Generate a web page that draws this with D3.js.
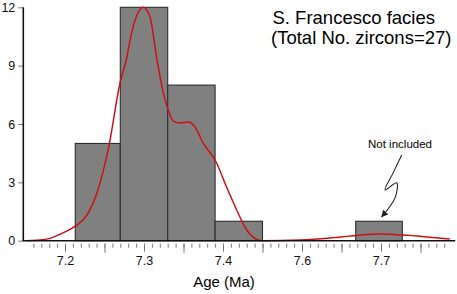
<!DOCTYPE html>
<html>
<head>
<meta charset="utf-8">
<script src="https://cdn.jsdelivr.net/npm/d3@7"></script>
<style>
  body { margin: 0; background: #fff; }
  text { font-family: "Liberation Sans", Arial, Helvetica, sans-serif; }
</style>
</head>
<body>
<div id="chart"></div>
<script>
// histogram bins (age in Ma) and zircon counts
const binLo  = [7.213, 7.27, 7.33, 7.39, 7.568];
const binHi  = [7.27, 7.33, 7.39, 7.45, 7.627];
const counts = [5, 12, 8, 1, 1];

// density curve (age, scaled value)
const kdeAge = [7.152, 7.168, 7.181, 7.2, 7.213, 7.2275, 7.240, 7.2485, 7.2548, 7.2696, 7.2781,
  7.2823, 7.2911, 7.2991, 7.3076, 7.3161, 7.3244, 7.3308, 7.3371, 7.3456, 7.3561, 7.3646,
  7.3751, 7.39, 7.4047, 7.4173, 7.4301, 7.4427, 7.4506, 7.4975, 7.5354, 7.5692, 7.5987,
  7.6278, 7.662, 7.687];
const kdeVal = [0.0, 0.03, 0.12, 0.45, 0.75, 1.3, 2.4, 3.6, 4.7, 8.1, 9.4,
  10.3, 11.6, 12.0, 11.5, 9.4, 7.6, 6.7, 6.15, 6.05, 6.1, 5.85,
  5.0, 4.15, 2.75, 1.58, 0.55, 0.07, 0.0, 0.04, 0.14, 0.27, 0.34,
  0.29, 0.18, 0.09];

// axis ticks (labels copied as printed on the figure)
const xTickValues = [7.2, 7.3, 7.4, 7.5, 7.6];
const xTickLabels = ["7.2", "7.3", "7.4", "7.6", "7.7"];
const yTickValues = [0, 3, 6, 9, 12];

// the "not included" arrow, in data units
const arrowAge = [7.6262, 7.6155, 7.6051, 7.6199, 7.6177, 7.6009];
const arrowVal = [4.41, 3.5, 2.61, 2.97, 2.2, 1.23];

const width = 457;
const height = 294;

const svg = d3.select("#chart")
  .append("svg")
    .attr("width", width)
    .attr("height", height);

const x = d3.scaleLinear().domain([7.2, 7.6]).range([65, 381]);
const y = d3.scaleLinear().domain([0, 12]).range([240.7, 7.3]);

// bars
svg.append("g")
  .selectAll("rect")
  .data(counts)
  .join("rect")
    .attr("x", (d, i) => x(binLo[i]))
    .attr("width", (d, i) => x(binHi[i]) - x(binLo[i]))
    .attr("y", d => y(d))
    .attr("height", d => y(0) - y(d))
    .attr("fill", "#808080")
    .attr("stroke", "#2e2e2e")
    .attr("stroke-width", 1.1);

// density curve
const kde = kdeAge.map((a, i) => [a, kdeVal[i]]);
svg.append("path")
  .datum(kde)
  .attr("fill", "none")
  .attr("stroke", "#cc1016")
  .attr("stroke-width", 1.5)
  .attr("d", d3.line()
    .x(d => x(d[0]))
    .y(d => y(d[1]))
    .curve(d3.curveMonotoneX));

// x axis: minor ticks, then medium, then labelled ones
const minorTicks = d3.range(716, 769).map(d => d / 100);
const midTicks = d3.range(725, 769, 10).map(d => d / 100);

const xAxisG = svg.append("g").attr("transform", `translate(0,${y(0) + 3})`);
xAxisG.append("g")
  .call(d3.axisBottom(x).tickValues(minorTicks).tickSize(4).tickFormat(""));
xAxisG.append("g")
  .call(d3.axisBottom(x).tickValues(midTicks).tickSize(9).tickFormat(""));
xAxisG.append("g")
  .call(d3.axisBottom(x).tickValues(xTickValues).tickSize(8)
    .tickFormat((d, i) => xTickLabels[i]));
xAxisG.selectAll(".domain").remove();
xAxisG.selectAll(".tick line").attr("stroke", "#777").attr("stroke-width", 1);
xAxisG.selectAll(".tick text")
  .attr("fill", "#111")
  .attr("dy", "0.72em")
  .attr("y", 12)
  .style("font-size", "12.5px")
  .style("font-family", "'Liberation Sans', Arial, sans-serif");

svg.append("line")
  .attr("x1", x(7.146)).attr("x2", x(7.694))
  .attr("y1", y(0)).attr("y2", y(0))
  .attr("stroke", "#111").attr("stroke-width", 1.6);

// y axis
const yAxisG = svg.append("g").attr("transform", "translate(23.3,0)");
yAxisG.call(d3.axisLeft(y).tickValues(yTickValues).tickSize(5).tickPadding(3));
yAxisG.select(".domain").remove();
yAxisG.selectAll(".tick line").attr("stroke", "#777");
yAxisG.selectAll(".tick text")
  .attr("fill", "#111")
  .style("font-size", "12.5px")
  .style("font-family", "'Liberation Sans', Arial, sans-serif");

svg.append("line")
  .attr("x1", 23.3).attr("x2", 23.3)
  .attr("y1", y(12)).attr("y2", y(0))
  .attr("stroke", "#111").attr("stroke-width", 1.6);

// axis title
svg.append("text")
  .attr("x", 224)
  .attr("y", 287)
  .attr("text-anchor", "middle")
  .style("font-size", "15px")
  .text("Age (Ma)");

// titles
svg.append("text")
  .attr("x", 272.5)
  .attr("y", 24)
  .style("font-size", "18.5px")
  .text("S. Francesco facies");

svg.append("text")
  .attr("x", 271)
  .attr("y", 43.5)
  .style("font-size", "18.5px")
  .text("(Total No. zircons=27)");

// annotation
svg.append("text")
  .attr("x", 400)
  .attr("y", 148)
  .attr("text-anchor", "middle")
  .style("font-size", "11.5px")
  .text("Not included");

svg.append("defs").append("marker")
  .attr("id", "head")
  .attr("viewBox", "0 0 10 10")
  .attr("refX", 9).attr("refY", 5)
  .attr("markerWidth", 7).attr("markerHeight", 7)
  .attr("markerUnits", "userSpaceOnUse")
  .attr("orient", "auto")
  .append("path")
    .attr("d", "M0,0L10,5L0,10z")
    .attr("fill", "#222");

const arrow = arrowAge.map((a, i) => [a, arrowVal[i]]);
svg.append("path")
  .datum(arrow)
  .attr("fill", "none")
  .attr("stroke", "#222")
  .attr("stroke-width", 1.1)
  .attr("marker-end", "url(#head)")
  .attr("d", d3.line()
    .x(d => x(d[0]))
    .y(d => y(d[1]))
    .curve(d3.curveCatmullRom));
</script>
</body>
</html>
